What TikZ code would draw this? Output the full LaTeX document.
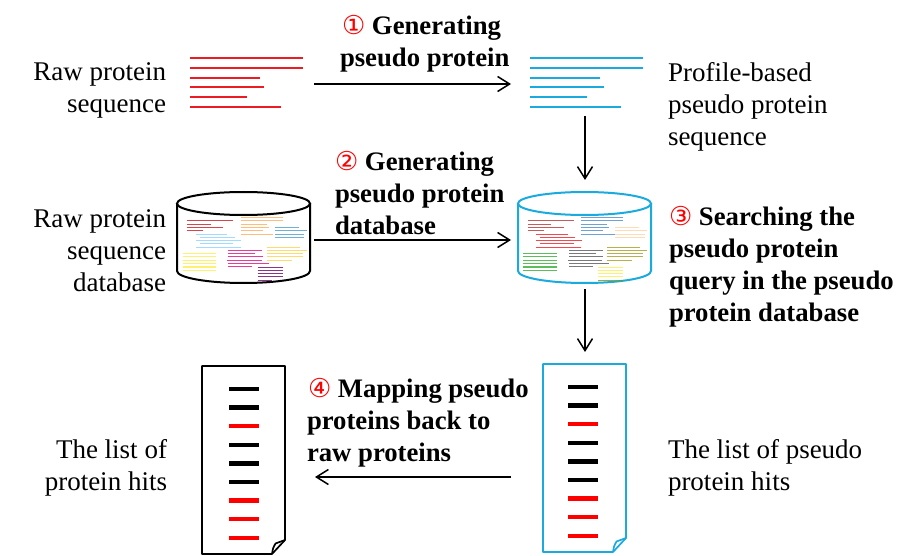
\documentclass[tikz,border=0pt]{standalone}
\usepackage{fontspec}
\setmainfont{Liberation Serif}
\newfontfamily\circfont{DejaVu Sans}
\usetikzlibrary{arrows.meta}
\definecolor{rawred}{RGB}{237,28,36}
\definecolor{skyb}{RGB}{27,170,222}
\tikzset{
  x=1pt,y=-1pt,
  lab/.style={inner sep=0pt,outer sep=0pt,font=\fontsize{27}{32}\selectfont},
  rlab/.style={lab,align=right,anchor=north east},
  llab/.style={lab,align=left,anchor=north west},
  blab/.style={inner sep=0pt,outer sep=0pt,font=\fontsize{26.7}{32}\selectfont\bfseries,align=left,anchor=north west},
  flow/.style={line width=1.6pt,-{Straight Barb[length=12pt,width=15pt,line width=1.5pt]}},
  seqline/.style={line width=2.6pt},
  dbline/.style={line width=1.4pt,opacity=0.8},
  hit/.style={line width=4.5pt}
}
\newcommand{\numc}[1]{{\mdseries\circfont\textcolor{red}{\fontsize{26}{32}\selectfont #1}}}
\newcommand{\dblines}[2]{\foreach \a/\b/\c in {#2}{\draw[dbline,draw=#1] (\a/3,\c/3) -- (\b/3,\c/3);}}
\newcommand{\seqs}[2]{\foreach \w/\yy in {113/58,113/68,70/78,74/87,57/97,91/107}{\draw[seqline,draw=#1] (#2,\yy) -- ++(\w,0);}}
\newcommand{\hits}[2]{%
 \foreach \k/\cc in {0/black,1/black,2/red,3/black,4/black,5/black,6/red,7/red,8/red}{%
  \draw[hit,draw=\cc] (#1,#2+\k*18.6) -- ++(30,0);}}
\newcommand{\docshape}[5]{%
 \draw[line width=1.7pt,draw=#5,line join=round] (#1,#2) -- (#3,#2) -- (#3,#4-14) -- (#3-13,#4) -- (#1,#4) -- cycle;
 \draw[line width=1.7pt,draw=#5,line join=round] (#3-13,#4) .. controls (#3-12,#4-6) .. (#3-9.5,#4-10.5) -- (#3,#4-14);}
\newcommand{\cyl}[3]{%
 \draw[line width=2pt,draw=#3] (#1,203.5) -- (#1,271) arc[start angle=180,end angle=0,x radius=(#2-#1)/2,y radius=12] -- (#2,203.5);
 \draw[line width=2pt,draw=#3,fill=white] (#1/2+#2/2,203.5) ellipse[x radius=(#2-#1)/2,y radius=11.5];}
\begin{document}
\begin{tikzpicture}
\useasboundingbox (0,0) rectangle (918,556);
\fill[white] (0,0) rectangle (918,556);

\coordinate (rawseq) at (314,84);
\coordinate (pseudoseq) at (511,84);
\coordinate (pseudoseqB) at (585,116);
\coordinate (pseudodbT) at (585,180);
\coordinate (rawdb) at (314,240);
\coordinate (pseudodb) at (511,240);
\coordinate (pseudodbB) at (585,289);
\coordinate (pseudodoc) at (585,352);
\coordinate (pdocL) at (511,477);
\coordinate (rdocR) at (315,477);

\seqs{rawred}{190}
\seqs{skyb}{530}

\cyl{177}{310}{black}
\cyl{518}{651}{skyb}
\begin{scope}[shift={(170,185)}]
\dblines{rawred!85!black}{52/190/106,52/122/119,52/160/127,52/100/136}
\dblines{orange!65!white}{214/340/97,214/340/106,214/292/118,214/298/127,214/278/136,214/310/149}
\dblines{blue!35!cyan!70!black!70!white}{314/386/127,314/410/136,314/402/149,314/402/158}
\dblines{blue!40!cyan!45!white}{78/172/149,90/194/157,78/214/167,90/190/176,78/212/187}
\dblines{yellow!90!orange!70!white}{38/138/205,38/138/215,38/138/227,38/138/236,38/138/246,38/138/257}
\dblines{magenta!85!purple}{175/276/197,175/255/205,175/278/215,172/275/227,175/296/236,175/246/245}
\dblines{orange!50!yellow!70!white}{290/390/187,290/410/197,290/400/206,290/400/215,290/365/227}
\dblines{violet!85!black}{263/338/247,263/338/256,263/338/265,263/338/275,263/305/287}
\end{scope}
\begin{scope}[shift={(510,185)}]
\dblines{red!65!black!80!white}{54/192/106,54/124/119,54/162/127,54/102/136}
\dblines{blue!50!cyan!70!black!70!white}{214/340/97,214/340/106,214/292/118,214/298/127,214/278/136,214/314/149}
\dblines{orange!35!white}{316/388/127,316/412/136,316/404/149,316/404/158}
\dblines{rawred}{78/174/149,90/196/157,78/216/167,90/192/176,78/214/187}
\dblines{green!60!black!80!white}{40/140/205,40/140/215,40/140/227,40/140/236,40/140/246,40/140/257}
\dblines{black!65}{177/278/197,177/257/205,177/280/215,174/277/227,177/298/236,177/248/245}
\dblines{olive!80!white}{290/390/187,290/410/197,290/400/206,290/400/215,290/365/227}
\dblines{yellow!90!orange!70!white}{265/340/247,265/340/256,265/340/265,265/340/275}
\dblines{olive!70!green}{265/340/287}
\end{scope}

\docshape{202}{366}{285}{554}{black}
\docshape{543}{364}{626}{552}{skyb}
\hits{229}{389}
\hits{568}{387}

\draw[flow] (rawseq) -- (pseudoseq);
\draw[flow] (pseudoseqB) -- (pseudodbT);
\draw[flow] (rawdb) -- (pseudodb);
\draw[flow] (pseudodbB) -- (pseudodoc);
\draw[flow] (pdocL) -- (rdocR);

\node[rlab] (t1) at (166,63) {Raw protein\\sequence};
\node[llab] (t2) at (668,62) {Profile-based\\pseudo protein\\sequence};
\node[rlab] (t3) at (166,210) {Raw protein\\sequence\\database};
\node[rlab] (t4) at (167,439) {The list of\\protein hits};
\node[llab] (t5) at (668,439) {The list of pseudo\\protein hits};
\node[blab] (s1) at (340,15) {\hspace*{2pt}\numc{①} Generating\\pseudo protein};
\node[blab] (s2) at (335,151) {\numc{②} Generating\\pseudo protein\\database};
\node[blab] (s3) at (669,206) {\numc{③} Searching the\\pseudo protein\\query in the pseudo\\protein database};
\node[blab] (s4) at (307,378) {\hspace*{1pt}\numc{④} Mapping pseudo\\proteins back to\\raw proteins};
\end{tikzpicture}
\end{document}
